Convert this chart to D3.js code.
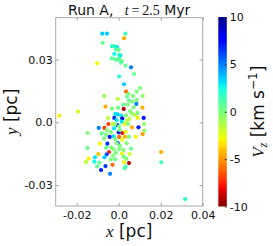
<!DOCTYPE html>
<html>
<head>
<meta charset="utf-8">
<script src="https://cdn.jsdelivr.net/npm/d3@7"></script>
<style>
  body { margin: 0; background: #fff; }
  text { font-family: "DejaVu Sans", sans-serif; fill: #111; }
  .math { font-family: "Liberation Serif", "DejaVu Serif", serif; }
</style>
</head>
<body>
<svg id="chart" width="273" height="246"></svg>
<script>
// star positions (pc) and line-of-sight velocity (km/s)
var xs = [-0.0078,-0.0056,0.0032,0.0025,-0.0076,-0.0032,-0.0021,-0.0008,-0.0013,0.0000,
  -0.0021,0.0002,0.0008,-0.0033,-0.0017,-0.0006,0.0003,0.0016,0.0011,-0.0103,
  0.0032,0.0059,0.0073,0.0002,0.0025,0.0035,0.0102,0.0086,0.0040,0.0068,
  0.0114,-0.0068,-0.0005,0.0049,0.0065,0.0084,-0.0063,0.0022,0.0043,0.0071,
  0.0113,0.0024,-0.0003,-0.0032,-0.0194,-0.0283,-0.0016,-0.0005,0.0011,0.0035,
  0.0076,0.0090,0.0119,0.0090,-0.0051,-0.0021,0.0017,0.0051,-0.0010,-0.0049,
  0.0027,0.0044,-0.0006,0.0002,0.0121,-0.0095,-0.0068,0.0094,0.0063,-0.0022,
  -0.0057,-0.0038,0.0017,0.0000,0.0032,-0.0149,-0.0081,-0.0060,-0.0024,-0.0043,
  0.0002,0.0030,0.0081,0.0114,0.0122,-0.0016,0.0017,-0.0090,-0.0005,-0.0054,
  0.0006,-0.0149,-0.0060,-0.0035,-0.0025,0.0003,0.0022,0.0059,-0.0046,-0.0013,
  0.0016,-0.0097,0.0052,-0.0057,-0.0027,0.0202,-0.0113,-0.0068,-0.0144,-0.0038,
  -0.0017,0.0024,0.0037,-0.0156,-0.0116,-0.0092,-0.0029,0.0025,0.0049,0.0203,
  -0.0103,-0.0063,0.0033,0.0029,-0.0084,-0.0041,0.0316,0.0062,0.0006,-0.0017,
  0.0014,0.0038,-0.0030,0.0049,-0.0070,-0.0010,0.0038,0.0054,0.0086,0.0046];
var ys = [0.0424,0.0424,0.0424,0.0402,0.0380,0.0364,0.0364,0.0360,0.0349,0.0346,
  0.0327,0.0322,0.0319,0.0306,0.0301,0.0298,0.0305,0.0293,0.0285,0.0282,
  0.0271,0.0263,0.0231,0.0219,0.0182,0.0147,0.0164,0.0147,0.0123,0.0126,
  0.0126,0.0126,0.0112,0.0104,0.0099,0.0088,0.0075,0.0085,0.0085,0.0072,
  0.0070,0.0064,0.0069,0.0065,0.0051,0.0032,0.0040,0.0038,0.0032,0.0033,
  0.0035,0.0045,0.0021,0.0021,0.0021,0.0021,0.0018,0.0016,0.0011,-0.0008,
  -0.0008,-0.0008,-0.0013,-0.0019,-0.0008,-0.0027,-0.0027,-0.0024,-0.0024,-0.0029,
  -0.0037,-0.0046,-0.0051,-0.0048,-0.0045,-0.0051,-0.0053,-0.0059,-0.0067,-0.0070,
  -0.0070,-0.0069,-0.0069,-0.0056,-0.0040,-0.0081,-0.0083,-0.0102,-0.0099,-0.0102,
  -0.0113,-0.0123,-0.0121,-0.0120,-0.0129,-0.0128,-0.0132,-0.0126,-0.0142,-0.0145,
  -0.0150,-0.0152,-0.0152,-0.0153,-0.0159,-0.0142,-0.0167,-0.0167,-0.0174,-0.0177,
  -0.0177,-0.0164,-0.0174,-0.0190,-0.0188,-0.0193,-0.0203,-0.0191,-0.0195,-0.0191,
  -0.0211,-0.0209,-0.0212,-0.0220,-0.0228,-0.0246,-0.0367,0.0043,-0.0037,-0.0008,
  0.0003,0.0008,-0.0008,-0.0070,-0.0077,-0.0100,-0.0100,0.0054,0.0107,0.0136];
var vz = [3.5,3.5,1.5,-4.5,0.5,2,1.5,3,1,0.5,
  2.5,1,3,0.5,1,0.5,1,0,1,-3,
  0.5,5,0.5,2,3.5,-6,0,0,0.5,0,
  -0.5,-0.5,-1.5,0.5,0,5,-4.5,0.5,0,0,
  -4.5,-9,0.5,0,-2,-3,3,3.5,3,0,
  -1.5,0,7,-3,-1.5,6.5,8.5,-1.5,3,-7,
  -3,0,7,0,-0.5,5,-7,7,-4.5,3,
  0,0,-8,7,-3,0,0.5,0,3,7,
  -6,-4.5,-3,-5,-0.5,0,-2.5,-3,6.5,6.5,
  0,0.5,0.5,0,0,0,0,0.5,-7.5,0,
  -2.5,-4,-2,6,0,-4.5,3,3.5,-3,0,
  0.5,0,0,-1.5,2.5,0.5,-6,-3,-9,1.5,
  0.5,6.5,1.5,1,7,5,2,-0.5,0,-0.5,
  3,-1.5,-1.5,0,0,0,0,0,0,0];
var xTicks = [-0.02, 0.0, 0.02, 0.04];
var yTicks = [-0.03, 0.0, 0.03];
var cTicks = [10, 5, 0, -5, -10];

// matplotlib "jet"
function interp(pts, t) {
  for (var i = 1; i < pts.length; i++) {
    if (t <= pts[i][0]) {
      var a = pts[i-1], b = pts[i];
      return a[1] + (b[1]-a[1]) * (t-a[0]) / (b[0]-a[0]);
    }
  }
  return pts[pts.length-1][1];
}
var R = [[0,0],[0.35,0],[0.66,1],[0.89,1],[1,0.5]];
var G = [[0,0],[0.125,0],[0.375,1],[0.64,1],[0.91,0],[1,0]];
var B = [[0,0.5],[0.11,1],[0.34,1],[0.65,0],[1,0]];
function jet(t) {
  t = Math.max(0, Math.min(1, t));
  return d3.rgb(255*interp(R,t), 255*interp(G,t), 255*interp(B,t)).formatHex();
}

var svg = d3.select("#chart");
var L = 55.7, Rt = 202.7, T = 17.7, Bm = 206;
var x = d3.scaleLinear().domain([-0.03, 0.04]).range([L, Rt]);
var y = d3.scaleLinear().domain([-0.04, 0.05]).range([Bm, T]);
var color = d3.scaleSequential(jet).domain([10, -10]);

var fmt = function(d) { return d === 0 ? "0.0" : String(d); };

// points
svg.append("g").selectAll("circle")
  .data(xs.map(function(d, i) { return {x: d, y: ys[i], v: vz[i]}; }))
  .enter().append("circle")
  .attr("cx", function(d) { return x(d.x); })
  .attr("cy", function(d) { return y(d.y); })
  .attr("r", 2.1)
  .attr("fill", function(d) { return color(d.v); });

// frame
svg.append("rect").attr("x", L).attr("y", T).attr("width", Rt-L).attr("height", Bm-T)
  .attr("fill", "none").attr("stroke", "#a8a8a8").attr("stroke-width", 1);

function styleAxis(g) {
  g.select(".domain").remove();
  g.selectAll("line").attr("stroke", "#a0a0a0");
  g.selectAll("text").attr("font-size", 11).attr("fill", "#222").style("font-family", "DejaVu Sans");
}
svg.append("g").attr("transform", "translate(0," + Bm + ")")
  .call(d3.axisBottom(x).tickValues(xTicks).tickFormat(fmt).tickSizeInner(-3).tickSizeOuter(0).tickPadding(5))
  .call(styleAxis);
svg.append("g").attr("transform", "translate(0," + T + ")")
  .call(d3.axisTop(x).tickValues(xTicks).tickFormat("").tickSizeInner(-3).tickSizeOuter(0))
  .call(styleAxis);
svg.append("g").attr("transform", "translate(" + L + ",0)")
  .call(d3.axisLeft(y).tickValues(yTicks).tickFormat(fmt).tickSizeInner(-3).tickSizeOuter(0).tickPadding(3))
  .call(styleAxis);
svg.append("g").attr("transform", "translate(" + Rt + ",0)")
  .call(d3.axisRight(y).tickValues(yTicks).tickFormat("").tickSizeInner(-3).tickSizeOuter(0))
  .call(styleAxis);

// title
var title = svg.append("text").attr("x", (L+Rt)/2).attr("y", 14.5).attr("text-anchor", "middle")
  .attr("font-size", 14);
title.append("tspan").text("Run A,\u2002 ");
title.append("tspan").attr("class", "math").style("font-style", "italic").text("t");
title.append("tspan").attr("class", "math").text("\u2009=\u20092.5");
title.append("tspan").text(" Myr");

// axis labels
var xl = svg.append("text").attr("x", (L+Rt)/2).attr("y", 237).attr("text-anchor", "middle").attr("font-size", 17);
xl.append("tspan").attr("class", "math").style("font-style", "italic").text("x");
xl.append("tspan").text(" [pc]");
var yl = svg.append("text").attr("transform", "translate(17," + (T+Bm)/2 + ") rotate(-90)")
  .attr("text-anchor", "middle").attr("font-size", 17);
yl.append("tspan").attr("class", "math").style("font-style", "italic").text("y");
yl.append("tspan").text(" [pc]");

// colorbar
var cx0 = 218.3, cw = 8.5, cT = 17, cB = 206.5;
var cy = d3.scaleLinear().domain([-10, 10]).range([cB, cT]);
var grad = svg.append("defs").append("linearGradient").attr("id", "cbar")
  .attr("x1", 0).attr("y1", 1).attr("x2", 0).attr("y2", 0);
grad.selectAll("stop").data(d3.range(0, 1.0001, 0.02)).enter().append("stop")
  .attr("offset", function(d) { return d; })
  .attr("stop-color", function(d) { return color(-10 + 20*d); });
svg.append("rect").attr("x", cx0).attr("y", cT).attr("width", cw).attr("height", cB-cT)
  .attr("fill", "url(#cbar)");
svg.append("g").attr("transform", "translate(" + (cx0+cw) + ",0)")
  .call(d3.axisRight(cy).tickValues(cTicks).tickFormat(String).tickSizeInner(-2).tickSizeOuter(0).tickPadding(3))
  .call(styleAxis)
  .selectAll("line").attr("stroke", "#333");

var cl = svg.append("text").attr("transform", "translate(263.5," + (cT+cB)/2 + ") rotate(-90)")
  .attr("text-anchor", "middle").attr("font-size", 17);
cl.append("tspan").attr("class", "math").style("font-style", "italic").text("V");
cl.append("tspan").attr("class", "math").style("font-style", "italic").attr("font-size", 12).attr("dy", 3).text("z");
cl.append("tspan").attr("dy", -3).text(" [km s");
cl.append("tspan").attr("font-size", 12).attr("dy", -7).text("\u22121");
cl.append("tspan").attr("dy", 7).text("]");
</script>
</body>
</html>
